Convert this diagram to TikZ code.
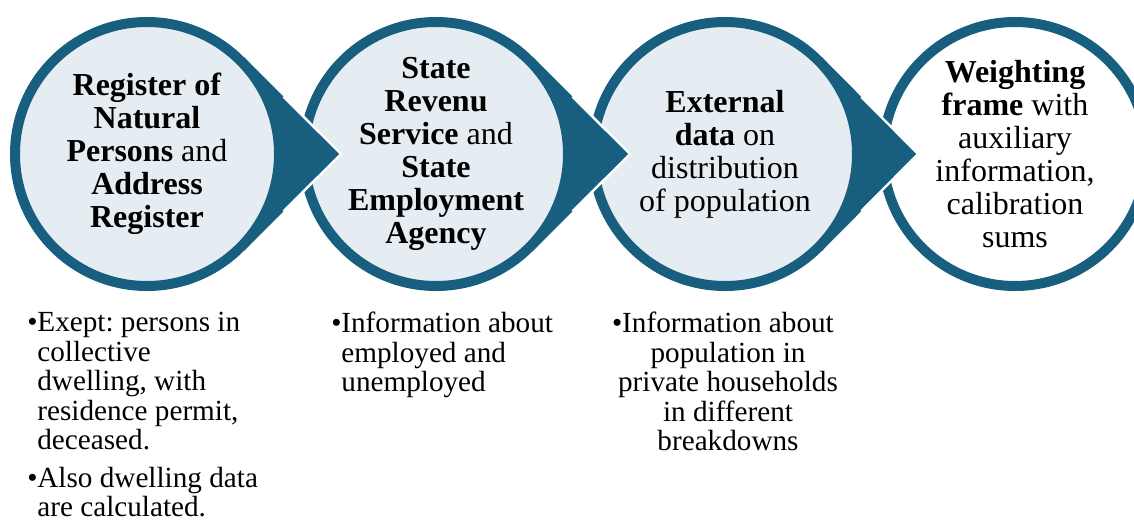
\documentclass[tikz,border=0pt]{standalone}
\usepackage{fontspec}
\setmainfont{Liberation Serif}
\usepackage{tikz}
\usetikzlibrary{positioning}
\definecolor{ringblue}{RGB}{23, 94, 127}
\definecolor{paleblue}{RGB}{230, 237, 242}
\frenchspacing

% bullet of the notes below the stages, and the matching hanging indent
\newlength{\bulw}
\setlength{\bulw}{5pt}
\newcommand{\bul}{\makebox[\bulw][l]{\textbullet}}
\newcommand{\ind}{\hspace*{\bulw}}

\begin{document}
\begin{tikzpicture}[
        x=0.5pt, y=0.5pt,
        stage/.style={circle, draw=ringblue, line width=5pt, fill=paleblue,
                      minimum size=132pt, inner sep=0pt, outer sep=2.5pt,
                      align=center, font=\fontsize{16}{16.5}\selectfont},
        pointer/.style={fill=ringblue},
        rim/.style={draw=white, line width=1.2pt, line join=miter,
                    shorten <=28pt, shorten >=28pt},
        note/.style={inner sep=0pt, align=left,
                     font=\fontsize{14.6}{14.75}\selectfont},
      ]
        \useasboundingbox (0,0) rectangle (1134,521);

        % the four stages
        \node[stage] (rnp) at (147,367)
          {\textbf{Register of}\\\textbf{Natural}\\\textbf{Persons} and\\
           \textbf{Address}\\\textbf{Register}};
        \node[stage] (srs) at (436,367)
          {\textbf{State}\\\textbf{Revenu}\\\textbf{Service} and\\
           \textbf{State}\\\textbf{Employment}\\\textbf{Agency}};
        \node[stage] (ext) at (725,367)
          {\textbf{External}\\\textbf{data} on\\distribution\\of population};
        \node[stage, fill=white] (wf) at (1015,367)
          {\textbf{Weighting}\\\textbf{frame} with\\auxiliary\\information,\\
           calibration\\sums};

        % arrow heads pointing into the next stage
        \coordinate (rnptip) at (341,367);
        \coordinate (srstip) at (630,367);
        \coordinate (exttip) at (918,367);
        \foreach \s/\t in {rnp/rnptip, srs/srstip, ext/exttip} {
          \fill[pointer] (\s.center) ++(-45:64pt)
            arc[start angle=-45, end angle=45, radius=64pt]
            -- (\s.45) -- (\t) -- (\s.-45) -- cycle;
          \draw[rim] (\s.45) -- (\t) -- (\s.-45);
        }

        % notes below the stages
        \node[note, anchor=north west] (rnpnote) at (27,209)
          {\bul Exept: persons in\\\ind collective\\\ind dwelling, with\\
           \ind residence permit,\\\ind deceased.\\[4pt]
           \bul Also dwelling data\\\ind are calculated.};
        \node[note, anchor=north west] (srsnote) at (331,209)
          {\bul Information about\\\ind employed and\\\ind unemployed};
        \node[note, align=center, anchor=north] (extnote) at (723,209)
          {\bul Information about\\\ind population in\\\ind private households\\
           \ind in different\\\ind breakdowns};
      \end{tikzpicture}
\end{document}
